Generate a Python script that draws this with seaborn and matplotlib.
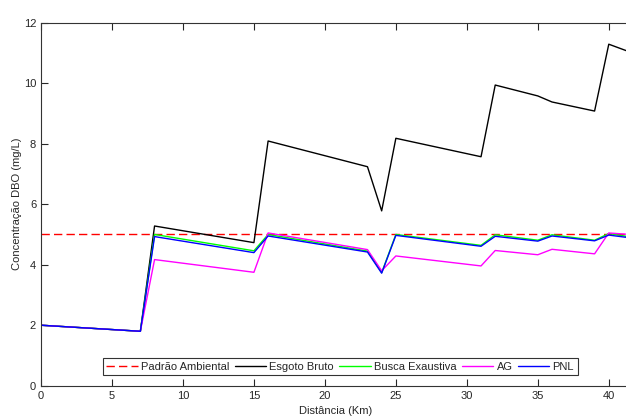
import numpy as np
import pandas as pd
import seaborn as sns
import matplotlib
matplotlib.use('Agg')
import matplotlib.pyplot as plt

# distance (km) breakpoints
dist = [0, 7, 8, 15, 16, 23, 24, 25, 31, 32, 35, 36, 39, 40, 41.5]

padrao = [5, 5]
padrao_x = [0, 41.5]
esgoto = [2.0, 1.8, 5.28, 4.73, 8.09, 7.24, 5.78, 8.18, 7.57, 9.94, 9.58, 9.38, 9.08, 11.29, 11.03]
busca = [2.0, 1.8, 5.0, 4.46, 5.0, 4.45, 3.74, 5.0, 4.64, 4.99, 4.81, 4.99, 4.81, 5.03, 4.92]
ag = [2.0, 1.8, 4.17, 3.75, 5.05, 4.5, 3.8, 4.29, 3.96, 4.47, 4.33, 4.51, 4.36, 5.05, 5.0]
pnl = [2.0, 1.8, 4.93, 4.40, 4.95, 4.42, 3.72, 4.97, 4.61, 4.94, 4.78, 4.95, 4.79, 4.98, 4.89]

sns.set_style('ticks')
plt.rcParams['font.family'] = ['Liberation Sans', 'DejaVu Sans']
plt.rcParams['font.size'] = 8

fig = plt.figure(figsize=(6.26, 4.17), dpi=100)
ax = fig.add_axes([0.0655, 0.075, 0.941, 0.8705])

sns.lineplot(x=padrao_x, y=padrao, ax=ax, color='#ff0000', lw=1, dashes=False,
             linestyle=(0, (6, 3)), label='Padrão Ambiental')
sns.lineplot(x=dist, y=esgoto, ax=ax, color='black', lw=1, label='Esgoto Bruto')
sns.lineplot(x=dist, y=busca, ax=ax, color='#00ff00', lw=1, label='Busca Exaustiva')
sns.lineplot(x=dist, y=ag, ax=ax, color='#ff00ff', lw=1, label='AG')
sns.lineplot(x=dist, y=pnl, ax=ax, color='#0000ff', lw=1, label='PNL')

ax.set_xlim(0, 41.5)
ax.set_ylim(0, 12)
ax.set_xticks(range(0, 45, 5))
ax.set_yticks(range(0, 13, 2))
ax.tick_params(direction='in', length=5, top=True, right=False, labelsize=8, width=0.8)
for s in ax.spines.values():
    s.set_color('#333333')
    s.set_linewidth(0.8)

ax.set_xlabel('Distância (Km)', fontsize=8, labelpad=4)
ax.set_ylabel('Concentração DBO (mg/L)', fontsize=8, labelpad=1)

leg = ax.legend(loc='lower center', bbox_to_anchor=(0.508, 0.013), ncol=5, frameon=True,
                fancybox=False, edgecolor='black', handlelength=2.8, columnspacing=0.5,
                handletextpad=0.3, borderpad=0.35, fontsize=8)
leg.get_frame().set_linewidth(0.8)

fig.savefig('out.png', dpi=100)
